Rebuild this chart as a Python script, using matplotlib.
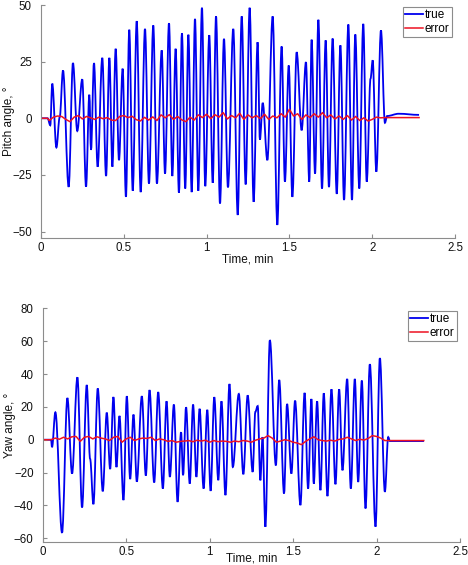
import numpy as np
import matplotlib
matplotlib.use("Agg")
import matplotlib.pyplot as plt
from matplotlib.path import Path
from matplotlib.patches import PathPatch
from matplotlib.lines import Line2D

plt.rcParams['font.family'] = ['Liberation Sans', 'DejaVu Sans']

# pitch "true" signal: times (min) and values (deg) of its turning points
pitch_t = [0, 0.04, 0.056, 0.068, 0.093, 0.113, 0.133, 0.167,
           0.193, 0.219, 0.249, 0.272, 0.292, 0.302, 0.32, 0.342,
           0.37, 0.393, 0.413, 0.431, 0.451, 0.471, 0.493, 0.513,
           0.533, 0.554, 0.578, 0.602, 0.628, 0.652, 0.678, 0.70,
           0.729, 0.749, 0.773, 0.793, 0.813, 0.833, 0.851, 0.871,
           0.890, 0.910, 0.930, 0.950, 0.972, 0.992, 1.016, 1.037,
           1.057, 1.081, 1.105, 1.129, 1.161, 1.188, 1.212, 1.236,
           1.260, 1.284, 1.308, 1.322, 1.339, 1.367, 1.399, 1.427,
           1.453, 1.473, 1.496, 1.518, 1.544, 1.574, 1.600, 1.620,
           1.634, 1.655, 1.675, 1.697, 1.719, 1.739, 1.761, 1.786,
           1.808, 1.830, 1.856, 1.878, 1.898, 1.922, 1.946, 1.967,
           1.990, 2.003, 2.025, 2.053, 2.077, 2.09, 2.16, 2.283]
pitch_v = [0, 0, -3.1, 15.3, -12.9, 0.5, 21.1, -30.3,
           24.4, -5.6, 17.2, -30.2, 10.4, -14, 24.4, -21.4,
           26.7, -25.5, 26.7, -21.4, 30.7, -18.5, 21.9, -34.7,
           39.1, -32, 42.9, -32.6, 39.5, -28.8, 41, -28.8,
           30, -24.4, 42, -25.5, 30.7, -32.9, 37.6, -31,
           36.9, -32.6, 43.9, -32, 48.8, -30, 36.7, -28.5,
           45, -37.6, 35.1, -30.5, 39.5, -42.7, 45, -29.2,
           48.8, -36.9, 33.6, -9.4, 6.8, -18.5, 45, -47.1,
           31.7, -28, 23.3, -34.7, 29.2, -5.3, 24.8, -28,
           34.7, -24.4, 43.5, -31, 34.4, -30.4, 35.2, -33.4,
           32.2, -36.1, 41.4, -36.1, 37, -31, 41.7, -28,
           17.5, 25.6, -23.6, 38.8, -2, 1, 2, 1.5]

# pitch error
pitch_err_t = [0, 0.04, 0.05, 0.075, 0.1, 0.125, 0.15, 0.175, 0.2, 0.225, 0.25, 0.275,
               0.3, 0.325, 0.35, 0.375, 0.4, 0.425, 0.45, 0.475, 0.5, 0.525, 0.55, 0.575,
               0.6, 0.625, 0.65, 0.675, 0.7, 0.725, 0.75, 0.775, 0.8, 0.825, 0.85, 0.875,
               0.9, 0.925, 0.95, 0.975, 1.0, 1.025, 1.05, 1.075, 1.1, 1.125, 1.15, 1.175,
               1.2, 1.225, 1.25, 1.275, 1.3, 1.325, 1.35, 1.375, 1.4, 1.425, 1.45, 1.475,
               1.5, 1.525, 1.55, 1.575, 1.6, 1.625, 1.65, 1.675, 1.7, 1.725, 1.75, 1.775,
               1.8, 1.825, 1.85, 1.875, 1.9, 1.925, 1.95, 1.975, 2.0, 2.025, 2.05, 2.075, 2.283]
pitch_err_v = [0, 0, -1.0, 0.5, 1.0, 0.8, -0.5, -1.5, 0.5, 1.2, -0.3, 0.8,
               0.2, -0.5, 0.5, -0.2, 0.3, -0.8, -1.0, 0.8, 1.2, 0.3, 0.9, -0.6,
               -1.2, 0.4, -0.8, 0.6, -1.0, 1.5, 0.2, 1.6, -0.5, 0.8, -0.7, -1.5,
               0.5, -0.8, 1.5, 0.3, 1.8, -0.2, 1.6, 0.5, 2.5, -0.3, 1.2, 0.2,
               2.2, -0.5, 1.5, 0.2, 1.2, -0.2, 1.8, -0.5, 1.0, 0.2, 2.0, 0.5,
               4.0, 1.0, 2.0, -0.5, 1.5, 0.3, 2.0, 0.5, 2.5, 0.2, 1.5, -0.3,
               1.0, -0.5, 1.2, -0.8, 0.8, -1.0, 0.2, -1.2, -0.5, 0.5, 0.2, 0.3, 0.3]

# yaw "true" signal turning points
yaw_t = [0, 0.05, 0.056, 0.076, 0.116, 0.148, 0.176, 0.208,
         0.236, 0.264, 0.284, 0.304, 0.33, 0.36, 0.384, 0.404,
         0.424, 0.442, 0.46, 0.484, 0.504, 0.524, 0.544, 0.564,
         0.594, 0.618, 0.64, 0.668, 0.692, 0.72, 0.742, 0.762,
         0.786, 0.808, 0.829, 0.841, 0.859, 0.881, 0.901, 0.921,
         0.94, 0.964, 0.986, 1.006, 1.028, 1.052, 1.071, 1.095,
         1.119, 1.139, 1.175, 1.202, 1.228, 1.258, 1.274, 1.288,
         1.304, 1.317, 1.334, 1.361, 1.397, 1.417, 1.446, 1.464,
         1.49, 1.512, 1.544, 1.569, 1.59, 1.61, 1.624, 1.644,
         1.664, 1.684, 1.706, 1.73, 1.754, 1.776, 1.796, 1.824,
         1.846, 1.87, 1.89, 1.912, 1.934, 1.96, 1.994, 2.02,
         2.05, 2.07, 2.08, 2.284]
yaw_v = [0, 0, -4.5, 16.7, -56.6, 25.4, -20.6, 38,
         -41.2, 33.3, -11.6, -39.2, 31.2, -31.4, 16.5, -17.8,
         26, -16.7, 14.5, -36.7, 26.5, -23.9, 15.3, -25.5,
         26.5, -21.8, 30.2, -26, 29, -29.7, 23.4, -22.6,
         21.4, -37.8, 4.6, -21.6, 19.8, -26.7, 21.4, -22.6,
         18.8, -29.7, 18.2, -31.1, 25.9, -24.6, 23.4, -33.7,
         33.9, -16.6, 27.9, -21, 27, -19.6, 17, 20.5,
         -24.7, 1.6, -53, 60.6, -15.6, 36.4, -32.7, 21.8,
         -20.6, 23.8, -39.8, 28.5, -29.7, 24.8, -26.7, 23.4,
         -30.7, 28.3, -34.3, 30.7, -27.1, 30.7, -18.6, 37,
         -29.7, 37, -25.7, 36, -41.8, 46, -52.9, 49.7,
         -31.7, 1.6, -0.8, -0.8]

# yaw error
yaw_err_t = pitch_err_t
yaw_err_v = [0, 0, 0, 1.0, 0.3, 1.5, 0.5, 1.8, 2.0, -1.0, 1.5, 2.0,
             0.5, 1.8, 1.0, 0.5, -0.5, 1.5, 2.0, -1.5, 0.5, 1.5, -0.5, 0.5,
             1.0, 0.8, 1.5, -0.5, 0.5, 0.0, -1.0, -0.5, -1.5, -1.0, -0.8, -0.5,
             -1.2, -0.3, -0.8, -0.3, -1.5, -0.5, -1.2, -0.8, -1.0, -1.5, -0.8, -1.2,
             -0.5, -0.8, -1.5, -0.3, 0.5, 1.0, 2.5, 1.0, -1.5, -0.8, 0.0, -0.5,
             -1.5, -2.0, -3.0, -1.0, 0.5, 1.8, 0.0, -0.5, -0.8, -0.3, -0.8, 0.2,
             0.5, 1.5, 0.5, -0.5, 0.3, -0.2, 0.8, 2.5, 2.0, 1.0, -0.5, -0.5, -0.5]


def wave(ts, vs, k=0.36):
    # smooth curve through turning points (flat tangent at each one)
    verts = [(ts[0], vs[0])]
    codes = [Path.MOVETO]
    for i in range(1, len(ts)):
        dt = ts[i] - ts[i - 1]
        verts += [(ts[i - 1] + k * dt, vs[i - 1]), (ts[i] - k * dt, vs[i]), (ts[i], vs[i])]
        codes += [Path.CURVE4] * 3
    return Path(verts, codes)


def panel(ax, tt, tv, et, ev, ylabel, yticks, ylim, xlab_y, ylab_x, leg_xy):
    ax.add_patch(PathPatch(wave(tt, tv), facecolor='none', edgecolor='#0000ee', lw=1.3))
    ax.plot(et, ev, color='#ee1122', lw=1.1)
    ax.set_xlim(0, 2.5)
    ax.set_ylim(*ylim)
    ax.set_xticks([0, 0.5, 1, 1.5, 2, 2.5])
    ax.set_xticklabels(['0', '0.5', '1', '1.5', '2', '2.5'])
    ax.set_yticks(yticks)
    for s in ['top', 'right']:
        ax.spines[s].set_visible(False)
    for s in ['left', 'bottom']:
        ax.spines[s].set_color('#8c8c8c')
        ax.spines[s].set_linewidth(0.8)
    ax.tick_params(direction='in', length=3, color='#8c8c8c', labelsize=8.3, labelcolor='#111111')
    ax.tick_params(axis='y', pad=6.5)
    ax.tick_params(axis='x', pad=3)
    ax.set_xlabel('Time, min', fontsize=8.5, color='#111111')
    ax.xaxis.set_label_coords(0.5, xlab_y)
    ax.set_ylabel(ylabel, fontsize=8.5, color='#111111')
    ax.yaxis.set_label_coords(ylab_x, 0.5)
    handles = [Line2D([], [], color='#0000ee', lw=1.3, label='true'),
               Line2D([], [], color='#ee1122', lw=1.1, label='error')]
    leg = ax.legend(handles=handles, loc='upper right', bbox_to_anchor=leg_xy,
                    bbox_transform=ax.figure.transFigure, borderaxespad=0,
                    fontsize=8.5, fancybox=False, handlelength=1.5, handletextpad=0.15,
                    borderpad=0.2, labelspacing=0.15, framealpha=1)
    leg.get_frame().set_edgecolor('#8c8c8c')
    leg.get_frame().set_linewidth(0.8)


fig = plt.figure(figsize=(4.68, 5.65), dpi=100)
ax1 = fig.add_axes([0.0876, 0.5782, 0.8846, 0.4129])
ax2 = fig.add_axes([0.0912, 0.0402, 0.8917, 0.4142])

panel(ax1, pitch_t, pitch_v, pitch_err_t, pitch_err_v, 'Pitch angle, \u00b0',
      [-50, -25, 0, 25, 50], (-53, 50), -0.066, -0.062, (0.9658, 0.9876))
panel(ax2, yaw_t, yaw_v, yaw_err_t, yaw_err_v, 'Yaw angle, \u00b0',
      [-60, -40, -20, 0, 20, 40, 60, 80], (-62.4, 80), -0.045, -0.065, (0.9765, 0.4496))

fig.savefig('out.png', dpi=100)
